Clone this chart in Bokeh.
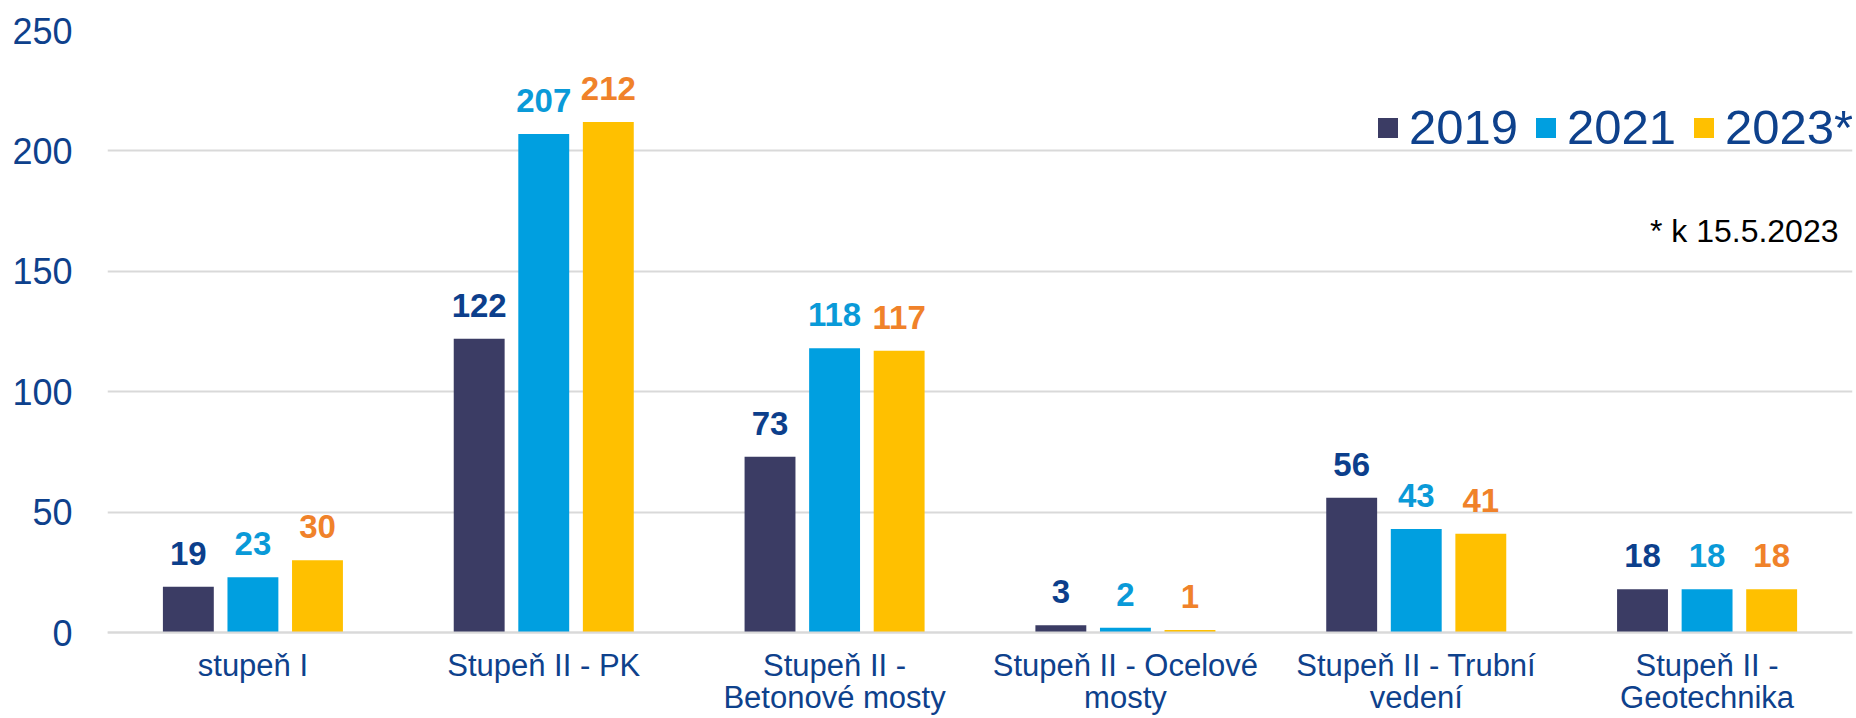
from bokeh.plotting import figure
from bokeh.models import (ColumnDataSource, FactorRange, Range1d, Legend, LegendItem,
                          Label, FixedTicker)
from bokeh.transform import dodge
from bokeh.core.properties import value
from bokeh.embed import file_html
from bokeh.resources import INLINE

# ---- data ----
categories = ["stupeň I", "Stupeň II - PK", "Stupeň II -\nBetonové mosty",
              "Stupeň II - Ocelové\nmosty", "Stupeň II - Trubní\nvedení",
              "Stupeň II -\nGeotechnika"]
years = ["2019", "2021", "2023*"]
v2019 = [19, 122, 73, 3, 56, 18]
v2021 = [23, 207, 118, 2, 43, 18]
v2023 = [30, 212, 117, 1, 41, 18]
y_ticks = [0, 50, 100, 150, 200, 250]
note_text = "* k 15.5.2023"

series = [v2019, v2021, v2023]
bar_colors = ["#3b3c64", "#009fe0", "#ffc000"]
label_colors = ["#0c3f8c", "#0a9ad8", "#f0822a"]
offsets = [-0.222, 0.0, 0.222]
FONT = "Liberation Sans"
AXIS_BLUE = "#0e418c"

p = figure(x_range=FactorRange(factors=categories, range_padding=0),
           y_range=Range1d(-35.7, 250),
           width=1856, height=718,
           min_border_left=107, min_border_right=4, min_border_top=30,
           min_border_bottom=0,
           output_backend="svg", toolbar_location=None)

p.outline_line_color = None
p.background_fill_color = "white"
p.border_fill_color = "white"

p.xgrid.grid_line_color = None
p.ygrid.grid_line_color = "#d9d9d9"
p.ygrid.grid_line_width = 2
p.yaxis.ticker = FixedTicker(ticks=y_ticks)

p.yaxis.axis_line_color = None
p.yaxis.major_tick_line_color = None
p.yaxis.minor_tick_line_color = None
p.yaxis.major_label_standoff = 29
p.yaxis.major_label_text_font = FONT
p.yaxis.major_label_text_font_size = "36px"
p.yaxis.major_label_text_color = AXIS_BLUE

p.xaxis.fixed_location = 0
p.xaxis.axis_line_color = "#d9d9d9"
p.xaxis.axis_line_width = 2
p.xaxis.major_tick_line_color = None
p.xaxis.minor_tick_line_color = None
p.xaxis.major_label_standoff = 9
p.xaxis.major_label_text_font = FONT
p.xaxis.major_label_text_font_size = "31px"
p.xaxis.major_label_text_line_height = 0.92
p.xaxis.major_label_text_color = AXIS_BLUE

items = []
for vals, year, bc, lc, off in zip(series, years, bar_colors, label_colors, offsets):
    src = ColumnDataSource(dict(cat=categories, val=vals, lbl=[str(v) for v in vals]))
    r = p.vbar(x=dodge("cat", off, range=p.x_range), top="val", width=0.175,
               source=src, fill_color=bc, line_color=None)
    p.text(x=dodge("cat", off, range=p.x_range), y="val", text="lbl", source=src,
           y_offset=-22, text_align="center", text_baseline="bottom",
           text_font=value(FONT), text_font_style="bold",
           text_font_size="33px", text_color=lc)
    items.append(LegendItem(label=year, renderers=[r]))

legend = Legend(items=items, orientation="horizontal", location=(1268, 563),
                label_text_font=FONT, label_text_font_size="49px",
                label_text_color=AXIS_BLUE, glyph_width=25, glyph_height=25,
                label_standoff=9, spacing=15, padding=0, margin=0,
                border_line_color=None, background_fill_alpha=0)
p.add_layout(legend)

note = Label(x=1731, y=488, x_units="screen", y_units="screen", text=note_text,
             text_align="right", text_baseline="alphabetic",
             text_font=FONT, text_font_size="32px", text_color="#000000")
p.add_layout(note)

open("out.html", "w").write(file_html(p, INLINE))
